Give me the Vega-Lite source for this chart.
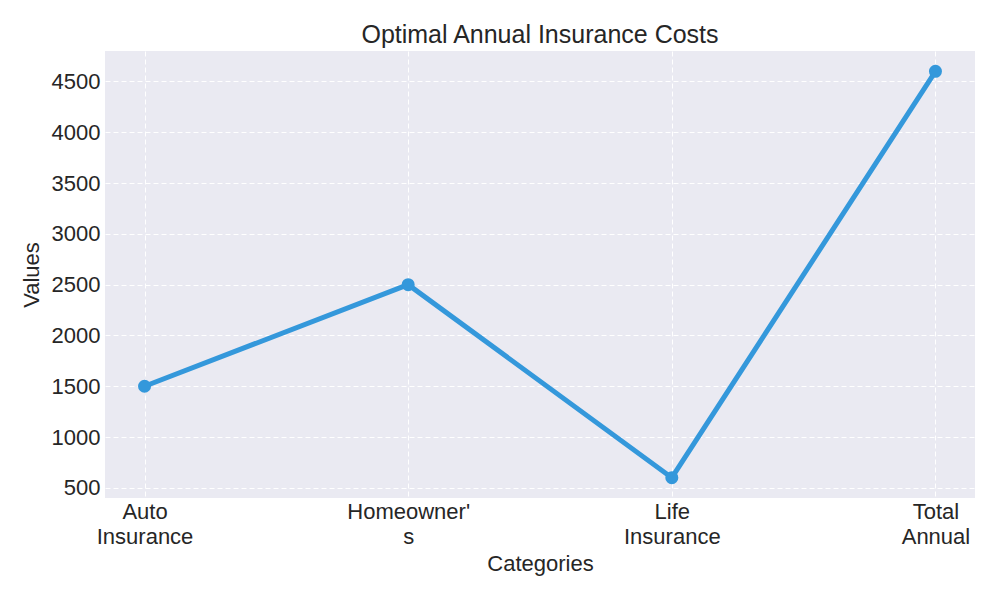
{
  "$schema": "https://vega.github.io/schema/vega-lite/v6.json",
  "autosize": {"type": "none"},
  "width": 870,
  "height": 447,
  "padding": {"left": 105, "top": 51, "right": 25, "bottom": 102},
  "background": "white",
  "title": {
    "text": "Optimal Annual Insurance Costs",
    "font": "Liberation Sans",
    "fontSize": 25,
    "fontWeight": "normal",
    "color": "#262626",
    "anchor": "middle",
    "baseline": "alphabetic",
    "offset": 7,
    "dy": 24
  },
  "config": {
    "view": {"fill": "#EAEAF2", "stroke": null},
    "axis": {
      "domain": false,
      "ticks": false,
      "grid": true,
      "gridColor": "white",
      "gridDash": [5, 3],
      "gridWidth": 1,
      "labelFont": "Liberation Sans",
      "labelFontSize": 22,
      "labelColor": "#262626",
      "titleFont": "Liberation Sans",
      "titleFontSize": 22,
      "titleFontWeight": "normal",
      "titleColor": "#262626"
    }
  },
  "data": {
    "values": [
      {"category": "Auto Insurance", "value": 1500},
      {"category": "Homeowner's", "value": 2500},
      {"category": "Life Insurance", "value": 600},
      {"category": "Total Annual", "value": 4600}
    ]
  },
  "encoding": {
    "x": {
      "field": "category",
      "type": "ordinal",
      "sort": null,
      "scale": {"type": "point", "padding": 0.15},
      "axis": {
        "title": "Categories",
        "labelAngle": 0,
        "labelPadding": 3,
        "labelBaseline": "top",
        "labelLineHeight": 25,
        "titlePadding": 6,
        "labelExpr": "datum.value == \"Homeowner's\" ? [\"Homeowner'\", \"s\"] : split(datum.value, ' ')"
      }
    },
    "y": {
      "field": "value",
      "type": "quantitative",
      "scale": {"domain": [400, 4800], "nice": false, "zero": false},
      "axis": {
        "title": "Values",
        "format": "d",
        "values": [500, 1000, 1500, 2000, 2500, 3000, 3500, 4000, 4500],
        "labelPadding": 5,
        "titlePadding": 8
      }
    }
  },
  "layer": [
    {"mark": {"type": "line", "color": "#3498DB", "strokeWidth": 5}},
    {"mark": {"type": "point", "filled": true, "opacity": 1, "color": "#3498DB", "size": 170}}
  ]
}
